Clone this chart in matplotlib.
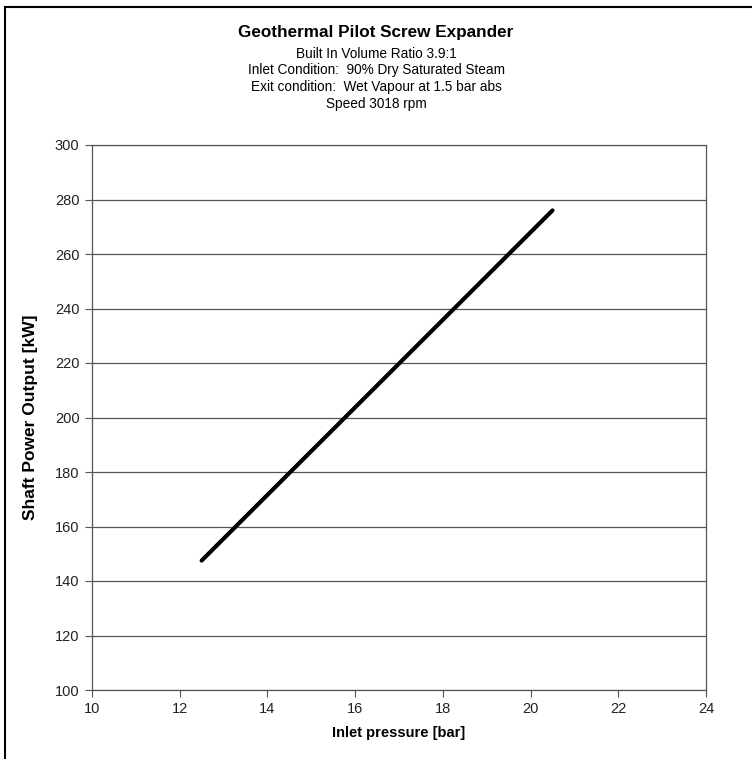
import matplotlib
matplotlib.use("Agg")
import matplotlib.pyplot as plt
from matplotlib.lines import Line2D

plt.rcParams['font.family'] = ['Liberation Sans', 'DejaVu Sans']

# inlet pressure [bar] vs shaft power [kW]
pressure = [12.5, 20.5]
power = [147.5, 276.0]

x_ticks = [10, 12, 14, 16, 18, 20, 22, 24]
y_ticks = [100, 120, 140, 160, 180, 200, 220, 240, 260, 280, 300]

title = "Geothermal Pilot Screw Expander"
subtitle = ["Built In Volume Ratio 3.9:1",
            "Inlet Condition:  90% Dry Saturated Steam",
            "Exit condition:  Wet Vapour at 1.5 bar abs",
            "Speed 3018 rpm"]

fig = plt.figure(figsize=(7.52, 7.59), dpi=100)
ax = fig.add_axes([92/752, 1-690/759, (706-92)/752, (690-145)/759])

ax.plot(pressure, power, color='black', lw=3, solid_capstyle='round')

ax.set_xlim(10, 24)
ax.set_ylim(100, 300)
ax.set_xticks(x_ticks)
ax.set_yticks(y_ticks)
ax.yaxis.grid(True, color='#555555', lw=0.9)
ax.set_axisbelow(True)
ax.tick_params(direction='out', length=5, color='#555555', labelsize=10.5, labelcolor='#222222')
ax.tick_params(axis='y', pad=4)
for s in ax.spines.values():
    s.set_color('#555555')
    s.set_linewidth(0.9)

ax.set_xlabel("Inlet pressure [bar]", fontsize=10.5, fontweight='bold', labelpad=7)
ax.set_ylabel("Shaft Power Output [kW]", fontsize=12.5, fontweight='bold', labelpad=12)

fig.text(0.5, 1-33/759, title, ha='center', va='center', fontsize=12.3, fontweight='bold')
for i, line in enumerate(subtitle):
    fig.text(0.5, 1-(53.5+16.7*i)/759, line, ha='center', va='center', fontsize=9.8)

# outer frame: only the top and left edges show in the picture
fig.lines.append(Line2D([5/752, 5/752], [0, 1-7/759], transform=fig.transFigure, color='black', lw=1.5))
fig.lines.append(Line2D([5/752, 1], [1-7/759, 1-7/759], transform=fig.transFigure, color='black', lw=1.5))

fig.savefig("out.png", dpi=100)
